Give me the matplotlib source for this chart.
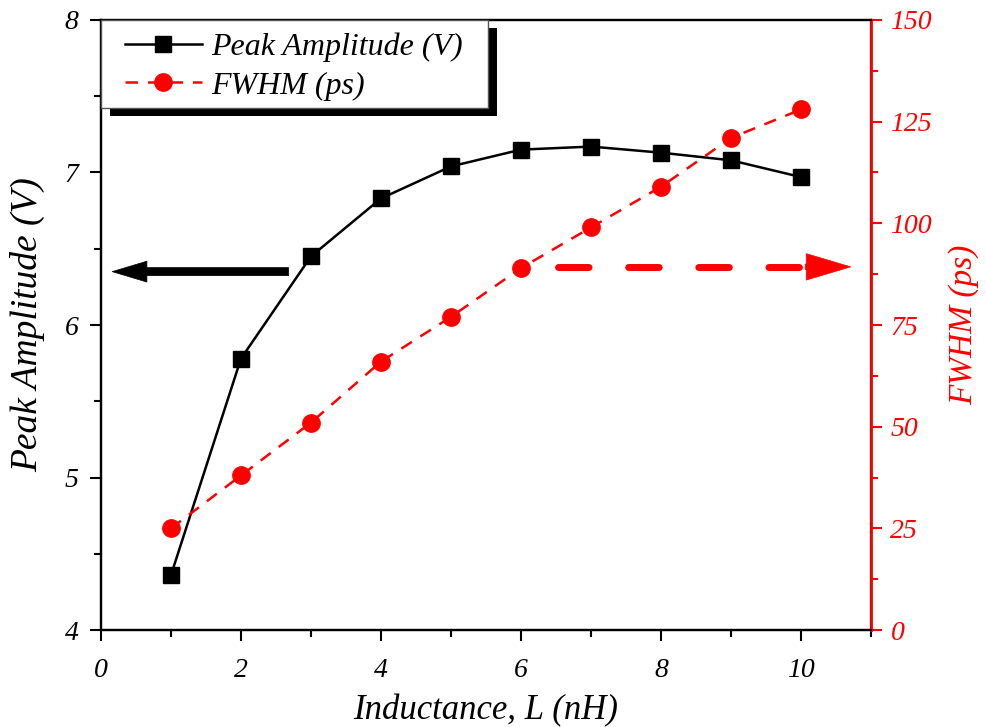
import matplotlib.pyplot as plt
from matplotlib.patches import Rectangle
from matplotlib.transforms import IdentityTransform
from matplotlib.ticker import MultipleLocator

# 資料
inductance = [1, 2, 3, 4, 5, 6, 7, 8, 9, 10]
peak_amplitude = [4.36, 5.78, 6.45, 6.83, 7.04, 7.15, 7.17, 7.13, 7.08, 6.97]
fwhm = [25, 38, 51, 66, 77, 89, 99, 109, 121, 128]

plt.rcParams['font.family'] = ['Liberation Serif', 'DejaVu Serif']
plt.rcParams['font.style'] = 'italic'

fig = plt.figure(figsize=(9.87, 7.27), dpi=100)
ax = fig.add_axes([0.1023, 0.1334, 0.7802, 0.8391])
ax2 = ax.twinx()

ln1, = ax.plot(inductance, peak_amplitude, color='black', lw=1.8,
               marker='s', markersize=11.5, label='Peak Amplitude (V)')
ln2, = ax2.plot(inductance, fwhm, color='red', lw=1.8, ls=(0, (5, 4)),
                marker='o', markersize=12.5, label='FWHM (ps)')

ax.set_xlim(0, 11)
ax.set_ylim(4, 8)
ax2.set_ylim(0, 150)

ax.xaxis.set_major_locator(MultipleLocator(2))
ax.xaxis.set_minor_locator(MultipleLocator(1))
ax.yaxis.set_major_locator(MultipleLocator(1))
ax.yaxis.set_minor_locator(MultipleLocator(0.5))
ax2.yaxis.set_major_locator(MultipleLocator(25))
ax2.yaxis.set_minor_locator(MultipleLocator(12.5))

ax.tick_params(which='major', direction='out', length=8, width=1.5, labelsize=20, pad=8)
ax.tick_params(which='minor', direction='out', length=5, width=1.5)
ax.tick_params(axis='x', which='major', pad=12)
ax.tick_params(axis='x', top=False, which='both')
ax2.tick_params(which='major', direction='out', length=8, width=1.5, labelsize=20,
                colors='red', pad=6)
ax2.tick_params(which='minor', direction='out', length=5, width=1.5, colors='red')

for s in ax.spines.values():
    s.set_linewidth(1.6)
for s in ax2.spines.values():
    s.set_linewidth(1.6)
ax2.spines['right'].set_color('red')
ax2.spines['right'].set_linewidth(2)

ax.set_xlabel('Inductance, L (nH)', fontsize=25, labelpad=8)
ax.set_ylabel('Peak Amplitude (V)', fontsize=27)
ax.yaxis.set_label_coords(-0.073, 0.5)
ax2.set_ylabel('FWHM (ps)', fontsize=24, color='red', labelpad=12)

# 指向座標軸的箭頭
ax.annotate('', xy=(0.16, 6.35), xytext=(2.68, 6.35),
            arrowprops=dict(arrowstyle='simple,head_length=2.5,head_width=1.5,tail_width=0.58',
                            fc='black', ec='black', lw=0.5, shrinkA=0, shrinkB=0,
                            mutation_scale=10))
ax2.plot([6.53, 9.99], [89.3, 89.3], color='red', lw=5, ls=(0, (4.4, 5.7)),
         dash_capstyle='round', solid_capstyle='round')
ax2.annotate('', xy=(10.71, 89.3), xytext=(10.06, 89.3),
             arrowprops=dict(arrowstyle='simple,head_length=3.2,head_width=1.9,tail_width=0.4',
                             fc='red', ec='red', lw=0.5, shrinkA=0, shrinkB=0,
                             mutation_scale=10))

# 圖例：外框與陰影另外畫
leg = ax2.legend(handles=[ln1, ln2], loc='upper left', bbox_to_anchor=(0.031, 0.98),
                 borderaxespad=0, borderpad=0, frameon=False, fontsize=23,
                 handlelength=2.4, labelspacing=0.3, handletextpad=0.3)
leg.set_zorder(6)

fig.canvas.draw()
bb = leg.get_window_extent()
axbb = ax.get_window_extent()
box_x0, box_x1 = axbb.x0, bb.x1 + 25
box_y1, box_y0 = axbb.y1, bb.y0 - 7
shadow = Rectangle((box_x0 + 9, box_y0 - 8), box_x1 - box_x0, box_y1 - box_y0,
                   transform=IdentityTransform(), facecolor='black',
                   edgecolor='none', zorder=5.5, clip_on=False)
frame = Rectangle((box_x0, box_y0), box_x1 - box_x0, box_y1 - box_y0,
                  transform=IdentityTransform(), facecolor='white',
                  edgecolor='#555555', lw=1.0, zorder=5.8, clip_on=False)
ax2.add_artist(shadow)
ax2.add_artist(frame)

fig.savefig('out.png', dpi=100)
